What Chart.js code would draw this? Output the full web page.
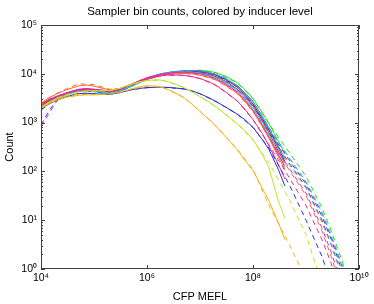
<!DOCTYPE html>
<html>
<head>
<meta charset="utf-8">
<script src="https://cdn.jsdelivr.net/npm/chart.js@4.4.1/dist/chart.umd.min.js"></script>
<style>
  html, body { margin: 0; padding: 0; background: #fff; }
  #wrap { width: 374px; height: 304px; }
</style>
</head>
<body>
<div id="wrap"><canvas id="binChart" width="374" height="304"></canvas></div>
<script>
// bin centres of the measured counts, and of the fitted model
const xData = [1e4, 1.4e4, 2e4, 3e4, 5e4, 7e4, 1e5, 1.5e5, 2e5, 3e5, 5e5, 7e5, 1e6, 1.5e6, 2e6, 3e6, 5e6, 7e6, 1e7, 1.5e7, 2e7, 3e7, 5e7, 7e7, 1e8, 1.5e8, 2e8, 3e8, 4e8];
const xFit = [1e4, 1.4e4, 2e4, 3e4, 5e4, 1e5, 2e5, 3e5, 5e5, 1e6, 2e6, 5e6, 1e7, 2e7, 5e7, 1e8, 2e8, 5e8, 1e9, 2e9, 3e9, 5e9, 7e9, 1e10];

const xTicks = [1e4, 1e6, 1e8, 1e10];
const yTicks = [1, 10, 100, 1e3, 1e4, 1e5];

// measured counts, one array per inducer level
const goldData = [2000, 2400, 2900, 3300, 3600, 3700, 3700, 3800, 3900, 4200, 4900, 5400, 5700, 5600, 5200, 4400, 3200, 2400, 1700, 1150, 850, 520, 280, 170, 105, 45, 25, 9, 4];
const limeData = [2100, 2600, 3100, 3600, 4200, 4500, 4500, 4500, 4600, 5000, 6000, 6800, 7300, 7600, 7300, 6500, 5200, 4300, 3400, 2600, 2100, 1500, 950, 680, 450, 220, 120, 25, 11];
const blueData = [1900, 2400, 2900, 3400, 3900, 4000, 3900, 3800, 3800, 4100, 4700, 5000, 5200, 5300, 5300, 5200, 4900, 4500, 3900, 3200, 2700, 2100, 1500, 1150, 800, 450, 280, 110, 50];
const pinkData = [2300, 2900, 3400, 4000, 4600, 4700, 4600, 4400, 4300, 4700, 5900, 7000, 7900, 8800, 9300, 9500, 9300, 8800, 8000, 6800, 5800, 4300, 2800, 1900, 1150, 600, 330, 140, 70];
const orangeData = [2500, 3200, 3900, 4700, 5600, 5900, 5600, 5000, 4700, 5000, 6100, 7000, 7800, 8700, 9300, 9900, 10200, 10000, 9400, 8400, 7500, 5900, 4000, 2800, 1700, 850, 480, 200, 110];
const magentaData = [2400, 3000, 3500, 4100, 4800, 5000, 4800, 4500, 4400, 4800, 6000, 7200, 8300, 9400, 10000, 10600, 10800, 10600, 10000, 8900, 7900, 6300, 4300, 3000, 1800, 900, 500, 220, 130];
const cyanData = [2000, 2600, 3200, 3800, 4400, 4600, 4500, 4200, 4000, 4500, 5600, 6800, 8000, 9200, 10000, 10800, 11000, 10800, 10300, 9300, 8300, 6800, 4600, 3300, 2000, 1000, 560, 230, 120];
const redData = [2200, 2800, 3400, 4000, 4700, 4900, 4800, 4600, 4500, 4800, 5900, 7000, 8000, 9000, 9700, 10400, 10900, 10900, 10500, 9600, 8700, 7100, 4900, 3500, 2200, 1100, 620, 260, 150];
const royalData = [2200, 2800, 3300, 3900, 4500, 4600, 4400, 4100, 4000, 4400, 5600, 6700, 7800, 9000, 9900, 10800, 11300, 11300, 11000, 10200, 9300, 7700, 5400, 3800, 2400, 1200, 700, 300, 160];
const springData = [2100, 2700, 3200, 3800, 4300, 4400, 4300, 4100, 3900, 4400, 5500, 6700, 7900, 9200, 10100, 11000, 11500, 11500, 11200, 10400, 9500, 7900, 5600, 4000, 2600, 1300, 760, 320, 180];
const violetData = [2100, 2700, 3300, 3900, 4600, 4800, 4700, 4400, 4200, 4600, 5800, 7000, 8200, 9400, 10200, 11000, 11500, 11600, 11400, 10600, 9700, 8100, 5800, 4100, 2700, 1350, 780, 330, 180];
const greenData = [2300, 2900, 3400, 4000, 4500, 4600, 4500, 4300, 4200, 4500, 5500, 6600, 7600, 8800, 9600, 10500, 11300, 11700, 11800, 11300, 10500, 9000, 6600, 4800, 3100, 1600, 950, 420, 230];

// model fits (dashed)
const goldFit = [1900, 2500, 3100, 3500, 3800, 3800, 3800, 4100, 4800, 5600, 5200, 3300, 1700, 850, 290, 110, 20, 3, 0.6, 0.05, 0.01, 0.001, 0.0001, 0.00001];
const limeFit = [2000, 2600, 3200, 3700, 4200, 4400, 4500, 5000, 6000, 7300, 7300, 5300, 3400, 2100, 950, 440, 150, 25, 5, 0.5, 0.05, 0.002, 0.0002, 0.00001];
const blueFit = [1800, 2400, 2900, 3400, 3900, 3900, 3800, 4100, 4700, 5200, 5300, 4900, 3900, 2700, 1500, 800, 300, 50, 10, 1.8, 0.5, 0.05, 0.005, 0.0005];
const pinkFit = [2200, 2900, 3400, 4000, 4600, 4600, 4300, 4700, 5900, 7900, 9300, 9300, 8000, 5800, 2800, 1150, 350, 70, 20, 4, 1.3, 0.15, 0.02, 0.001];
const orangeFit = [2400, 3200, 4000, 4900, 6200, 6000, 4800, 5000, 6100, 7800, 9300, 10200, 9400, 7500, 4000, 1700, 480, 100, 32, 6, 1.8, 0.3, 0.07, 0.008];
const magentaFit = [850, 1500, 2800, 3900, 4800, 4800, 4300, 4800, 6000, 8300, 10000, 10800, 10000, 7900, 4300, 1800, 500, 110, 36, 7, 2.2, 0.4, 0.1, 0.012];
const cyanFit = [2100, 2600, 3200, 3800, 4400, 4500, 4000, 4500, 5600, 8000, 10000, 11000, 10300, 8300, 4600, 2000, 560, 130, 45, 9, 3, 0.6, 0.15, 0.02];
const redFit = [2300, 2900, 3400, 4000, 4700, 4800, 4400, 4800, 5900, 8000, 9700, 10900, 10500, 8700, 4900, 2200, 620, 140, 48, 10, 3.2, 0.65, 0.16, 0.025];
const royalFit = [900, 1700, 3000, 3800, 4400, 4400, 3800, 4300, 5500, 7800, 9900, 11300, 11000, 9300, 5400, 2400, 700, 160, 55, 12, 4, 0.8, 0.2, 0.03];
const springFit = [2000, 2700, 3200, 3800, 4300, 4300, 3900, 4400, 5500, 7900, 10100, 11500, 11200, 9500, 5600, 2600, 760, 180, 62, 15, 5, 1.1, 0.28, 0.045];
const violetFit = [2000, 2700, 3300, 3900, 4600, 4700, 4200, 4600, 5800, 8200, 10200, 11500, 11400, 9700, 5800, 2700, 780, 180, 60, 14, 4.5, 1.0, 0.25, 0.04];
const greenFit = [2200, 2800, 3400, 4000, 4500, 4500, 4200, 4500, 5500, 7600, 9600, 11300, 11800, 10500, 6600, 3100, 950, 230, 80, 18, 6, 1.3, 0.35, 0.06];

const levels = [
  { color: '#f2b31c', data: goldData, fit: goldFit },
  { color: '#c4e21e', data: limeData, fit: limeFit },
  { color: '#2233dd', data: blueData, fit: blueFit },
  { color: '#f0288c', data: pinkData, fit: pinkFit },
  { color: '#f46a28', data: orangeData, fit: orangeFit },
  { color: '#e024d2', data: magentaData, fit: magentaFit },
  { color: '#22d2e2', data: cyanData, fit: cyanFit },
  { color: '#e81c1c', data: redData, fit: redFit },
  { color: '#3a40ee', data: royalData, fit: royalFit },
  { color: '#1ee6a0', data: springData, fit: springFit },
  { color: '#8a2ce6', data: violetData, fit: violetFit },
  { color: '#22e022', data: greenData, fit: greenFit }
];

const sup = { '0': '\u2070', '1': '\u00b9', '2': '\u00b2', '3': '\u00b3', '4': '\u2074', '5': '\u2075', '6': '\u2076', '8': '\u2078' };
function powLabel(v) {
  const e = String(Math.round(Math.log10(v)));
  return '10' + e.split('').map(c => sup[c]).join('');
}

function pts(xs, ys) {
  return xs.map((x, i) => ({ x: x, y: ys[i] }));
}

const datasets = [];
levels.forEach(l => {
  datasets.push({ data: pts(xData, l.data), borderColor: l.color, borderWidth: 1, pointRadius: 0, tension: 0 });
  datasets.push({ data: pts(xFit, l.fit), borderColor: l.color, borderWidth: 1, pointRadius: 0, tension: 0, borderDash: [5, 4] });
});

// box round the axes, inward ticks and the title, MATLAB style
const frame = {
  id: 'frame',
  afterDraw(chart) {
    const { ctx, chartArea: a, scales } = chart;
    const x = scales.x, y = scales.y;
    ctx.save();
    ctx.strokeStyle = '#404040';
    ctx.lineWidth = 1;
    ctx.strokeRect(a.left + 0.5, a.top + 0.5, a.right - a.left - 1, a.bottom - a.top - 1);
    ctx.beginPath();
    xTicks.forEach(v => {
      const px = Math.round(x.getPixelForValue(v)) + 0.5;
      ctx.moveTo(px, a.bottom); ctx.lineTo(px, a.bottom - 4);
      ctx.moveTo(px, a.top); ctx.lineTo(px, a.top + 4);
    });
    for (let d = 0; d < 5; d++) {
      for (let m = 1; m < 10; m++) {
        const py = Math.round(y.getPixelForValue(m * Math.pow(10, d))) + 0.5;
        const len = m === 1 ? 4 : 2;
        ctx.moveTo(a.left, py); ctx.lineTo(a.left + len, py);
        ctx.moveTo(a.right, py); ctx.lineTo(a.right - len, py);
      }
    }
    ctx.stroke();
    ctx.fillStyle = '#000';
    ctx.font = '11.5px "Liberation Sans", Arial, sans-serif';
    ctx.textAlign = 'center';
    ctx.textBaseline = 'middle';
    ctx.fillText('Sampler bin counts, colored by inducer level', (a.left + a.right) / 2, 12);
    ctx.restore();
  }
};

new Chart(document.getElementById('binChart'), {
  type: 'line',
  data: { datasets: datasets },
  options: {
    responsive: false,
    animation: false,
    layout: { padding: { top: 25, right: 15, left: 0, bottom: 0 } },
    plugins: { legend: { display: false }, tooltip: { enabled: false }, title: { display: false } },
    scales: {
      x: {
        type: 'logarithmic',
        min: 1e4,
        max: 1e10,
        afterBuildTicks: s => { s.ticks = xTicks.map(v => ({ value: v })); },
        afterFit: s => { s.height = 35; },
        grid: { display: false, drawTicks: false },
        border: { display: false },
        ticks: { callback: v => powLabel(v), color: '#000', padding: 3, maxRotation: 0, font: { family: 'Liberation Sans', size: 10.5 } },
        title: { display: true, text: 'CFP MEFL', color: '#000', padding: { top: 2, bottom: 0 }, font: { family: 'Liberation Sans', size: 11 } }
      },
      y: {
        type: 'logarithmic',
        min: 1,
        max: 1e5,
        afterBuildTicks: s => { s.ticks = yTicks.map(v => ({ value: v })); },
        afterFit: s => { s.width = 41; },
        grid: { display: false, drawTicks: false },
        border: { display: false },
        ticks: { callback: v => powLabel(v), color: '#000', padding: 4, font: { family: 'Liberation Sans', size: 10.5 } },
        title: { display: true, text: 'Count', color: '#000', padding: { top: 3, bottom: 0 }, font: { family: 'Liberation Sans', size: 11 } }
      }
    }
  },
  plugins: [frame]
});
</script>
</body>
</html>
